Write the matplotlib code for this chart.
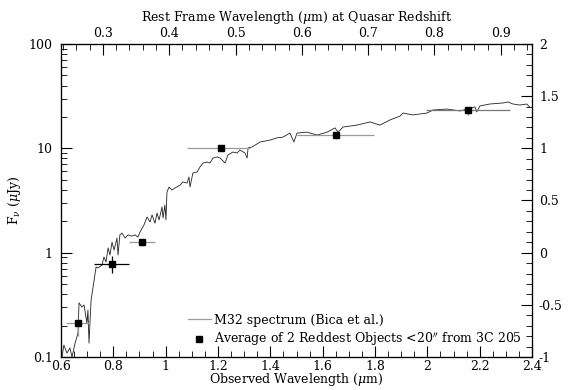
import numpy as np
import matplotlib
matplotlib.use('Agg')
import matplotlib.pyplot as plt
from matplotlib.ticker import MultipleLocator, FuncFormatter, LogLocator, NullFormatter

plt.rcParams['font.family'] = 'DejaVu Serif'
plt.rcParams['mathtext.fontset'] = 'dejavuserif'
plt.rcParams['axes.unicode_minus'] = False

# quasar redshift of 3C 205
z_qso = 1.534

# M32 spectrum (observed wavelength in micron, flux in microJy)
spec_wave = [0.604, 0.611, 0.623, 0.634, 0.642, 0.654, 0.665, 0.669, 0.680, 0.688,
             0.699, 0.703, 0.707, 0.715, 0.722, 0.734, 0.741, 0.757, 0.764, 0.772,
             0.780, 0.787, 0.795, 0.803, 0.814, 0.818, 0.825, 0.833, 0.845, 0.856,
             0.871, 0.883, 0.894, 0.902, 0.917, 0.929, 0.940, 0.948, 0.959, 0.967,
             0.975, 0.986, 0.990, 0.997, 1.001, 1.005, 1.013, 1.024, 1.036, 1.055,
             1.066, 1.082, 1.089, 1.093, 1.104, 1.120, 1.131, 1.143, 1.158, 1.169,
             1.181, 1.196, 1.208, 1.227, 1.238, 1.257, 1.273, 1.284, 1.303, 1.311,
             1.315, 1.330, 1.361, 1.399, 1.425, 1.448, 1.475, 1.490, 1.502, 1.540,
             1.578, 1.617, 1.647, 1.659, 1.678, 1.731, 1.781, 1.819, 1.857, 1.896,
             1.907, 1.945, 1.999, 2.022, 2.075, 2.125, 2.151, 2.182, 2.189, 2.201,
             2.239, 2.289, 2.308, 2.327, 2.354, 2.380, 2.391]
spec_flux = [0.100, 0.130, 0.109, 0.122, 0.100, 0.136, 0.170, 0.330, 0.301, 0.315,
             0.212, 0.282, 0.136, 0.352, 0.458, 0.729, 0.713, 0.762, 0.908, 0.814,
             1.11, 0.95, 1.26, 1.06, 1.38, 0.95, 1.48, 1.54, 1.38, 1.48,
             1.44, 1.48, 1.41, 1.58, 1.84, 2.20, 1.97, 2.30, 1.92, 2.40,
             2.06, 2.74, 2.15, 2.86, 2.06, 3.81, 4.26, 3.99, 4.17, 4.45,
             4.76, 4.65, 5.31, 4.26, 5.80, 5.93, 6.62, 7.23, 7.39, 7.23,
             8.07, 8.26, 8.07, 7.23, 8.63, 9.22, 9.02, 9.64, 9.02, 8.07,
             10.07, 10.3, 11.5, 12.0, 12.6, 12.8, 14.0, 11.5, 14.0, 14.3,
             13.4, 14.3, 15.7, 14.3, 16.0, 16.7, 17.9, 16.7, 18.7, 20.4,
             21.8, 20.9, 21.8, 23.3, 23.8, 22.8, 23.8, 24.9, 22.3, 25.5,
             26.6, 27.2, 27.8, 26.6, 26.0, 26.6, 24.9]

# averaged photometry of the two reddest objects
phot_wave = [0.665, 0.795, 0.910, 1.211, 1.651, 2.155]
phot_flux = [0.21, 0.78, 1.26, 10.1, 13.4, 23.3]
phot_xlo = [0.619, 0.726, 0.860, 1.081, 1.502, 1.995]
phot_xhi = [0.711, 0.860, 0.960, 1.322, 1.796, 2.316]
phot_ylo = [0.05, 0.14, 0.10, 0.5, 1.2, 2.6]
phot_yhi = [0.02, 0.15, 0.08, 0.3, 0.3, 0.3]
bar_colors = ['#999999', 'black', '#999999', '#999999', '#999999', '#777777']

fig = plt.figure(figsize=(5.69, 3.90), dpi=100)
ax = fig.add_axes([0.1072, 0.0846, 0.8278, 0.8026])

ax.plot(spec_wave, spec_flux, color='#222222', lw=0.6, label='M32 spectrum (Bica et al.)')

for i in range(len(phot_wave)):
    xe = [[phot_wave[i] - phot_xlo[i]], [phot_xhi[i] - phot_wave[i]]]
    ye = [[phot_ylo[i]], [phot_yhi[i]]]
    ax.errorbar([phot_wave[i]], [phot_flux[i]], xerr=xe, yerr=ye, fmt='none',
                ecolor=bar_colors[i], elinewidth=0.9, capsize=0)
ax.plot(phot_wave, phot_flux, 's', color='black', ms=5, ls='none',
        label='Average of 2 Reddest Objects <20$^{\\prime\\prime}$ from 3C 205')

ax.set_xscale('linear')
ax.set_yscale('log')
ax.set_xlim(0.6, 2.4)
ax.set_ylim(0.1, 100)
ax.xaxis.set_major_locator(MultipleLocator(0.2))
ax.xaxis.set_minor_locator(MultipleLocator(0.05))
ax.xaxis.set_major_formatter(FuncFormatter(lambda v, p: '%g' % round(v, 2)))
ax.yaxis.set_major_locator(LogLocator(base=10))
ax.yaxis.set_minor_locator(LogLocator(base=10, subs=np.arange(2, 10)))
ax.yaxis.set_major_formatter(FuncFormatter(lambda v, p: '%g' % v))
ax.yaxis.set_minor_formatter(NullFormatter())
ax.tick_params(which='both', direction='in', top=False, right=False, labelsize=9)
ax.tick_params(axis='x', pad=2)
ax.tick_params(axis='y', pad=6)
ax.tick_params(which='major', length=8)
ax.tick_params(which='minor', length=4)
ax.set_xlabel('Observed Wavelength ($\\mu$m)', fontsize=9, labelpad=-1)
ax.set_ylabel('F$_\\nu$ ($\\mu$Jy)', fontsize=9, labelpad=4)

# right axis: log flux
axr = ax.twinx()
axr.set_ylim(-1, 2)
axr.yaxis.set_major_locator(MultipleLocator(0.5))
axr.yaxis.set_minor_locator(MultipleLocator(0.1))
axr.yaxis.set_major_formatter(FuncFormatter(lambda v, p: '%g' % round(v, 2)))
axr.tick_params(which='both', direction='in', labelsize=9, pad=5)
axr.tick_params(which='major', length=8)
axr.tick_params(which='minor', length=4)

# top axis: rest frame wavelength
axt = ax.twiny()
axt.set_xlim(0.6 / (1 + z_qso), 2.4 / (1 + z_qso))
axt.xaxis.set_major_locator(MultipleLocator(0.1))
axt.xaxis.set_minor_locator(MultipleLocator(0.02))
axt.xaxis.set_major_formatter(FuncFormatter(lambda v, p: '%g' % round(v, 2)))
axt.tick_params(which='both', direction='in', labelsize=9, pad=3)
axt.tick_params(which='major', length=8)
axt.tick_params(which='minor', length=4)
axt.set_xlabel('Rest Frame Wavelength ($\\mu$m) at Quasar Redshift', fontsize=9, labelpad=4)

leg = ax.legend(loc='lower right', bbox_to_anchor=(0.995, 0.005), frameon=False, fontsize=9,
                handlelength=1.8, handletextpad=0.3, borderaxespad=0.2, labelspacing=0.3,
                markerscale=0.9)
leg.get_lines()[0].set_color('#999999')
leg.get_lines()[0].set_linewidth(0.9)

for a in (ax, axr, axt):
    for s in a.spines.values():
        s.set_linewidth(0.8)

plt.savefig('out.png', dpi=100)
